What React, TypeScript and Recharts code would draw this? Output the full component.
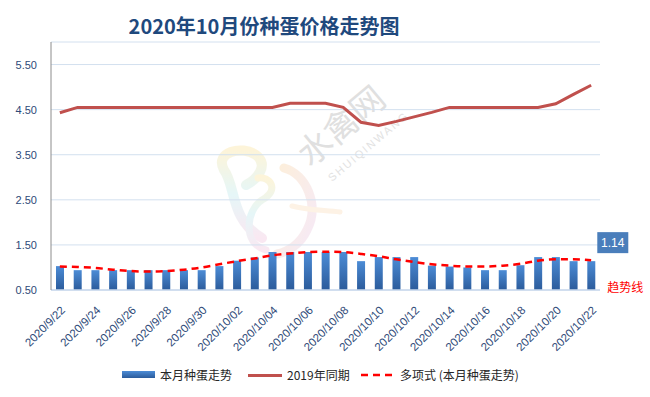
import React from "react";
import {
  ComposedChart,
  Bar,
  Line,
  XAxis,
  YAxis,
  CartesianGrid,
  LabelList,
} from "recharts";

const dates = [
  "2020/9/22", "2020/9/23", "2020/9/24", "2020/9/25", "2020/9/26", "2020/9/27",
  "2020/9/28", "2020/9/29", "2020/9/30", "2020/10/01", "2020/10/02", "2020/10/03",
  "2020/10/04", "2020/10/05", "2020/10/06", "2020/10/07", "2020/10/08", "2020/10/09",
  "2020/10/10", "2020/10/11", "2020/10/12", "2020/10/13", "2020/10/14", "2020/10/15",
  "2020/10/16", "2020/10/17", "2020/10/18", "2020/10/19", "2020/10/20", "2020/10/21",
  "2020/10/22",
];

const thisMonth = [
  1.03, 0.94, 0.94, 0.94, 0.94, 0.94, 0.94, 0.94, 0.94, 1.03, 1.15, 1.22,
  1.34, 1.34, 1.34, 1.34, 1.34, 1.14, 1.23, 1.23, 1.23, 1.04, 1.02, 1.0,
  0.94, 0.94, 1.05, 1.23, 1.23, 1.14, 1.14,
];

const lastYear = [
  4.43, 4.55, 4.55, 4.55, 4.55, 4.55, 4.55, 4.55, 4.55, 4.55, 4.55, 4.55,
  4.55, 4.64, 4.64, 4.64, 4.55, 4.22, 4.15, 4.24, 4.34, 4.44, 4.55, 4.55,
  4.55, 4.55, 4.55, 4.55, 4.63, 4.84, 5.04,
];

const trend = [
  1.02, 1.01, 0.99, 0.95, 0.92, 0.91, 0.92, 0.95, 1.0, 1.07, 1.14, 1.2,
  1.27, 1.31, 1.34, 1.35, 1.34, 1.3, 1.25, 1.18, 1.12, 1.07, 1.04, 1.02,
  1.02, 1.04, 1.08, 1.15, 1.18, 1.18, 1.16,
];

const yTicks = [0.5, 1.5, 2.5, 3.5, 4.5, 5.5];

const title = "2020年10月份种蛋价格走势图";
const seriesNames = ["本月种蛋走势", "2019年同期", "多项式 (本月种蛋走势)"];
const trendLabel = "趋势线";

const data = dates.map((d, i) => ({
  date: d,
  cur: thisMonth[i],
  prev: lastYear[i],
  trend: trend[i],
}));

const FONT = "'Noto Sans CJK SC', 'Liberation Sans', sans-serif";
const LAST = dates.length - 1;

const XTick = (props: any) => {
  const { x, y, payload } = props;
  const px = x + 6;
  const py = y + 21;
  return (
    <text
      x={px}
      y={py}
      transform={`rotate(-45 ${px} ${py})`}
      textAnchor="end"
      fontSize={11.5}
      fill="#2E4A78"
      fontFamily="'Liberation Sans', sans-serif"
    >
      {payload.value}
    </text>
  );
};

const YTick = (props: any) => {
  const { x, y, payload } = props;
  return (
    <text
      x={x}
      y={y + 4}
      textAnchor="end"
      fontSize={11}
      fill="#2E4A78"
      fontFamily="'Liberation Sans', sans-serif"
    >
      {Number(payload.value).toFixed(2)}
    </text>
  );
};

const LastLabel = (props: any) => {
  const { x, y, width, value, index } = props;
  if (index !== LAST) return null;
  const bx = x + width + 2;
  const by = y - 29;
  return (
    <g>
      <rect x={bx} y={by} width={31} height={21} fill="#4A7EBB" />
      <text
        x={bx + 15.5}
        y={by + 15}
        textAnchor="middle"
        fontSize={12}
        fill="#ffffff"
        fontFamily="'Liberation Sans', sans-serif"
      >
        {Number(value).toFixed(2)}
      </text>
      <text
        x={bx + 10}
        y={by + 60}
        textAnchor="start"
        fontSize={12}
        fill="#FF0000"
        fontFamily={FONT}
      >
        {trendLabel}
      </text>
    </g>
  );
};

const Watermark = () => (
  <svg
    width={650}
    height={397}
    style={{ position: "absolute", left: 0, top: 0, pointerEvents: "none" }}
  >
    <defs>
      <linearGradient id="wmA" x1="0" y1="0" x2="0" y2="1">
        <stop offset="0%" stopColor="#FCEBB5" />
        <stop offset="50%" stopColor="#CDEFF2" />
        <stop offset="100%" stopColor="#F5D3E6" />
      </linearGradient>
      <linearGradient id="wmB" x1="0" y1="0" x2="1" y2="1">
        <stop offset="0%" stopColor="#FCE0B8" />
        <stop offset="100%" stopColor="#EED5F0" />
      </linearGradient>
    </defs>
    <g opacity={0.5}>
      <path
        d="M 262 238 C 230 220 236 186 224 170 C 214 152 242 145 256 155 C 270 165 256 180 246 185"
        stroke="url(#wmA)"
        strokeWidth={10}
        fill="none"
        strokeLinecap="round"
      />
      <path
        d="M 266 250 C 242 244 246 210 262 200 C 280 190 270 176 258 178"
        stroke="url(#wmA)"
        strokeWidth={7}
        fill="none"
        strokeLinecap="round"
      />
      <path
        d="M 284 168 C 306 174 320 205 307 230 C 300 245 287 252 277 254"
        stroke="url(#wmB)"
        strokeWidth={9}
        fill="none"
        strokeLinecap="round"
      />
      <path
        d="M 292 206 C 306 210 322 210 340 212"
        stroke="#FCE6CC"
        strokeWidth={5}
        fill="none"
        strokeLinecap="round"
      />
    </g>
    <text
      x={310}
      y={168}
      transform="rotate(-40 310 168)"
      fontSize={34}
      fill="#E0E0E0"
      fontFamily={FONT}
      fontWeight={400}
    >
      水禽网
    </text>
    <text
      x={332}
      y={182}
      transform="rotate(-40 332 182)"
      fontSize={11}
      fill="#E2E2E2"
      fontFamily="'Liberation Sans', sans-serif"
      letterSpacing={2}
    >
      SHUIQINWANG
    </text>
  </svg>
);

const legendText: React.CSSProperties = {
  position: "absolute",
  top: 366,
  fontSize: 12,
  lineHeight: "18px",
  color: "#262626",
  fontFamily: FONT,
  whiteSpace: "nowrap",
};

export default function App() {
  return (
    <div style={{ position: "relative", width: 650, height: 397, background: "#ffffff" }}>
      <style>{`body{margin:0;}`}</style>
      <Watermark />
      <div
        style={{
          position: "absolute",
          left: 0,
          top: 12,
          width: 528,
          textAlign: "center",
          fontSize: 20,
          fontWeight: 700,
          color: "#1F497D",
          fontFamily: FONT,
          lineHeight: "28px",
        }}
      >
        {title}
      </div>
      <div style={{ position: "absolute", left: 0, top: 0 }}>
        <ComposedChart
          width={650}
          height={397}
          data={data}
          margin={{ top: 42, right: 50, bottom: 0, left: 0 }}
          barCategoryGap={0}
        >
          <defs>
            <linearGradient id="barGrad" x1="0" y1="0" x2="0" y2="1">
              <stop offset="0%" stopColor="#4C8CD6" />
              <stop offset="100%" stopColor="#2B5B9B" />
            </linearGradient>
          </defs>
          <CartesianGrid
            horizontal={true}
            vertical={false}
            stroke="#D3E0EF"
            strokeWidth={1}
          />
          <XAxis
            dataKey="date"
            interval={1}
            tickLine={false}
            tickSize={0}
            tickMargin={0}
            axisLine={{ stroke: "#C9D8EC", strokeWidth: 1.5 }}
            tick={<XTick />}
            height={107}
          />
          <YAxis
            domain={[0.5, 6]}
            ticks={yTicks}
            width={51}
            tickLine={false}
            tickSize={0}
            tickMargin={14}
            axisLine={{ stroke: "#8C8C8C", strokeWidth: 1 }}
            tick={<YTick />}
            allowDataOverflow={true}
          />
          <Bar
            dataKey="cur"
            fill="url(#barGrad)"
            barSize={8}
            isAnimationActive={false}
          >
            <LabelList dataKey="cur" content={<LastLabel />} />
          </Bar>
          <Line
            dataKey="prev"
            type="linear"
            stroke="#C0504D"
            strokeWidth={3}
            dot={false}
            isAnimationActive={false}
          />
          <Line
            dataKey="trend"
            type="monotone"
            stroke="#FF0000"
            strokeWidth={2.5}
            strokeDasharray="7 5"
            dot={false}
            isAnimationActive={false}
          />
        </ComposedChart>
      </div>
      {/* Legend */}
      <div
        style={{
          position: "absolute",
          left: 122,
          top: 371,
          width: 33,
          height: 7,
          background: "linear-gradient(#4C8CD6, #2B5B9B)",
        }}
      />
      <div style={{ ...legendText, left: 160 }}>{seriesNames[0]}</div>
      <div
        style={{
          position: "absolute",
          left: 248,
          top: 374,
          width: 34,
          height: 3,
          background: "#C0504D",
        }}
      />
      <div style={{ ...legendText, left: 287 }}>{seriesNames[1]}</div>
      <svg
        width={36}
        height={6}
        style={{ position: "absolute", left: 361, top: 372 }}
      >
        <line
          x1={0}
          y1={3}
          x2={36}
          y2={3}
          stroke="#FF0000"
          strokeWidth={2.5}
          strokeDasharray="7 5"
        />
      </svg>
      <div style={{ ...legendText, left: 400 }}>{seriesNames[2]}</div>
    </div>
  );
}
